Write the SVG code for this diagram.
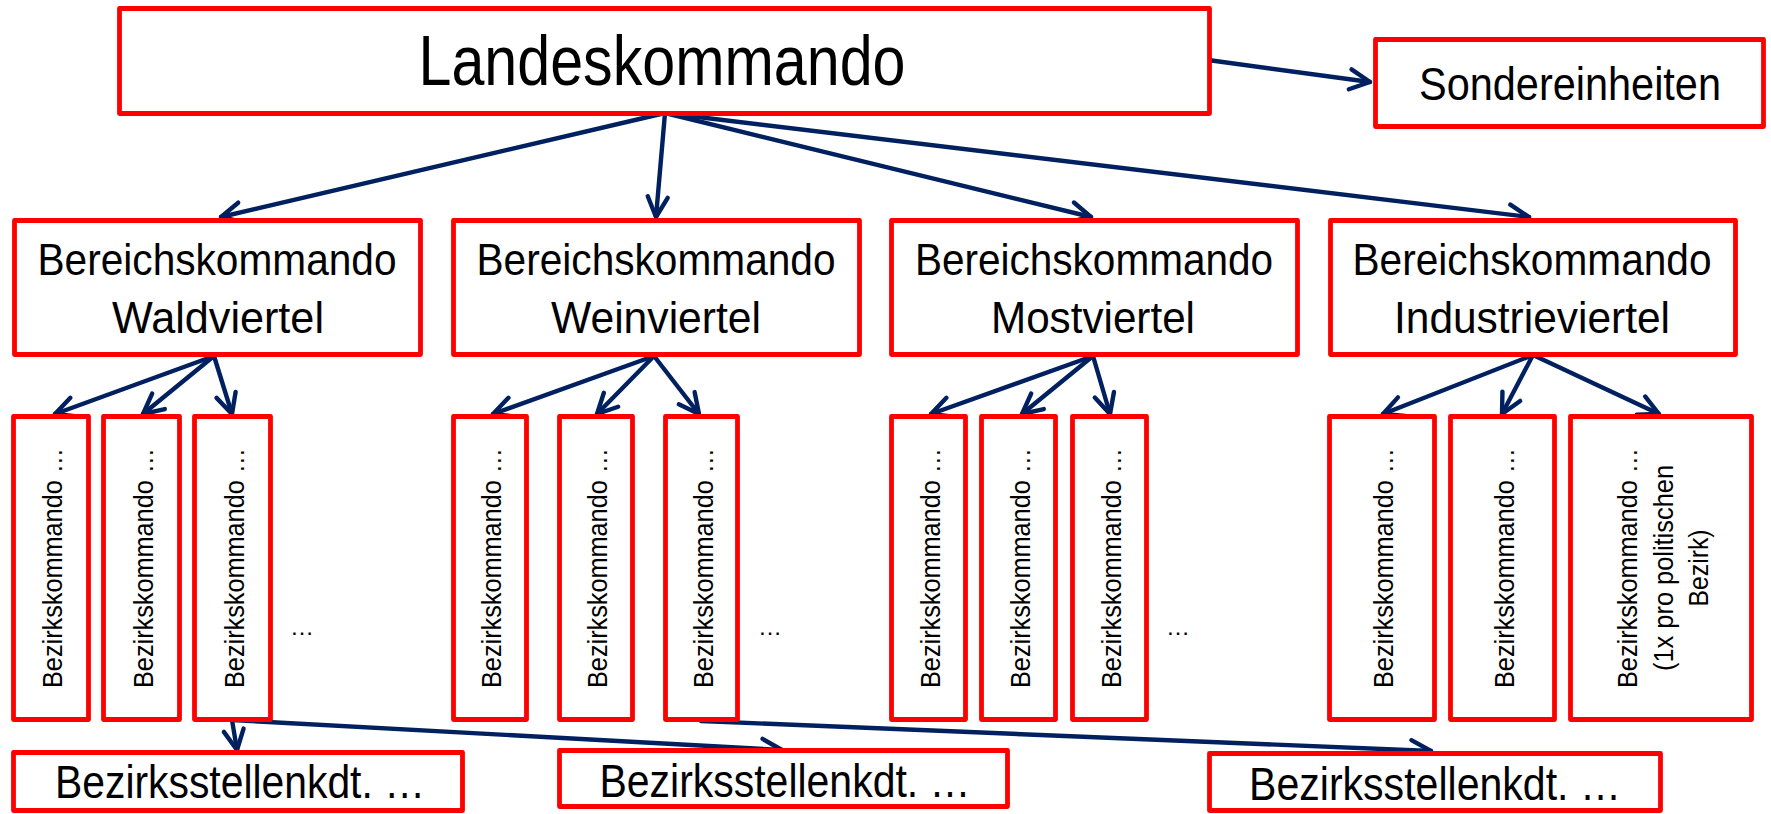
<svg xmlns="http://www.w3.org/2000/svg" width="1771" height="814" viewBox="0 0 1771 814">
<style>
.box{fill:#fff;stroke:#ff0000;stroke-width:4.8;stroke-linejoin:round}
.t{font-family:"Liberation Sans",Arial,sans-serif;fill:#000;text-anchor:middle}
.c{fill:none;stroke:#002060;stroke-width:4.4;stroke-linecap:round;marker-end:url(#arr)}
</style>
<defs>
<marker id="arr" markerUnits="userSpaceOnUse" viewBox="-26 -15 30 30" refX="0" refY="0" markerWidth="30" markerHeight="30" orient="auto" overflow="visible">
<path d="M-20,-10 L0,0 L-20,10" fill="none" stroke="#002060" stroke-width="4.4" stroke-linecap="round" stroke-linejoin="round"/>
</marker>
</defs>
<rect width="1771" height="814" fill="#fff"/>

<g id="connectors">
<line class="c" x1="1208" y1="60" x2="1370" y2="82"/>
<line class="c" x1="665" y1="113" x2="221" y2="217"/>
<line class="c" x1="665" y1="113" x2="656" y2="217"/>
<line class="c" x1="665" y1="113" x2="1091" y2="217"/>
<line class="c" x1="665" y1="113" x2="1529" y2="217"/>
<line class="c" x1="214" y1="356" x2="55" y2="414"/>
<line class="c" x1="214" y1="356" x2="143" y2="414"/>
<line class="c" x1="214" y1="356" x2="232" y2="414"/>
<line class="c" x1="654" y1="356" x2="493" y2="414"/>
<line class="c" x1="654" y1="356" x2="597" y2="414"/>
<line class="c" x1="654" y1="356" x2="699" y2="414"/>
<line class="c" x1="1093" y1="356" x2="931" y2="414"/>
<line class="c" x1="1093" y1="356" x2="1022" y2="414"/>
<line class="c" x1="1093" y1="356" x2="1110" y2="414"/>
<line class="c" x1="1533" y1="355" x2="1383" y2="414"/>
<line class="c" x1="1533" y1="355" x2="1502" y2="414"/>
<line class="c" x1="1533" y1="355" x2="1659" y2="414"/>
<line class="c" x1="232" y1="720" x2="237" y2="750"/>
<line class="c" x1="232" y1="720" x2="782" y2="750"/>
<line class="c" x1="701" y1="721" x2="1431" y2="751"/>
</g>

<g id="landeskommando">
<rect class="box" x="119.5" y="8.5" width="1090" height="105"/>
<text class="t" x="662" y="85" font-size="70" textLength="487" lengthAdjust="spacingAndGlyphs">Landeskommando</text>
</g>
<g id="sondereinheiten">
<rect class="box" x="1375.5" y="39.5" width="388" height="87"/>
<text class="t" x="1570" y="100" font-size="46" textLength="302" lengthAdjust="spacingAndGlyphs">Sondereinheiten</text>
</g>

<g id="bk-waldviertel">
<rect class="box" x="14.5" y="220.5" width="406" height="134"/>
<text class="t" x="217" y="275" font-size="45" textLength="359" lengthAdjust="spacingAndGlyphs">Bereichskommando</text>
<text class="t" x="218" y="333" font-size="45" textLength="212" lengthAdjust="spacingAndGlyphs">Waldviertel</text>
</g>
<g id="bk-weinviertel">
<rect class="box" x="453.5" y="220.5" width="406" height="134"/>
<text class="t" x="656" y="275" font-size="45" textLength="359" lengthAdjust="spacingAndGlyphs">Bereichskommando</text>
<text class="t" x="656" y="333" font-size="45" textLength="210" lengthAdjust="spacingAndGlyphs">Weinviertel</text>
</g>
<g id="bk-mostviertel">
<rect class="box" x="891.5" y="220.5" width="406" height="134"/>
<text class="t" x="1094" y="275" font-size="45" textLength="358" lengthAdjust="spacingAndGlyphs">Bereichskommando</text>
<text class="t" x="1093" y="333" font-size="45" textLength="204" lengthAdjust="spacingAndGlyphs">Mostviertel</text>
</g>
<g id="bk-industrieviertel">
<rect class="box" x="1330.5" y="220.5" width="405" height="134"/>
<text class="t" x="1532" y="275" font-size="45" textLength="359" lengthAdjust="spacingAndGlyphs">Bereichskommando</text>
<text class="t" x="1532" y="333" font-size="45" textLength="276" lengthAdjust="spacingAndGlyphs">Industrieviertel</text>
</g>

<g id="bz-1-1"><rect class="box" x="13.5" y="416.5" width="75" height="303"/>
<text class="t" font-size="28" textLength="240" lengthAdjust="spacingAndGlyphs" transform="translate(62,568) rotate(-90)">Bezirkskommando …</text></g>
<g id="bz-1-2"><rect class="box" x="103.5" y="416.5" width="76" height="303"/>
<text class="t" font-size="28" textLength="240" lengthAdjust="spacingAndGlyphs" transform="translate(152.5,568) rotate(-90)">Bezirkskommando …</text></g>
<g id="bz-1-3"><rect class="box" x="194.5" y="416.5" width="76" height="303"/>
<text class="t" font-size="28" textLength="240" lengthAdjust="spacingAndGlyphs" transform="translate(243.5,568) rotate(-90)">Bezirkskommando …</text></g>
<text class="t" x="302" y="635" font-size="24">…</text>

<g id="bz-2-1"><rect class="box" x="453.5" y="416.5" width="73" height="303"/>
<text class="t" font-size="28" textLength="240" lengthAdjust="spacingAndGlyphs" transform="translate(501,568) rotate(-90)">Bezirkskommando …</text></g>
<g id="bz-2-2"><rect class="box" x="559.5" y="416.5" width="73" height="303"/>
<text class="t" font-size="28" textLength="240" lengthAdjust="spacingAndGlyphs" transform="translate(607,568) rotate(-90)">Bezirkskommando …</text></g>
<g id="bz-2-3"><rect class="box" x="665.5" y="416.5" width="72" height="303"/>
<text class="t" font-size="28" textLength="240" lengthAdjust="spacingAndGlyphs" transform="translate(712.5,568) rotate(-90)">Bezirkskommando …</text></g>
<text class="t" x="770" y="635" font-size="24">…</text>

<g id="bz-3-1"><rect class="box" x="891.5" y="416.5" width="74" height="303"/>
<text class="t" font-size="28" textLength="240" lengthAdjust="spacingAndGlyphs" transform="translate(939.5,568) rotate(-90)">Bezirkskommando …</text></g>
<g id="bz-3-2"><rect class="box" x="981.5" y="416.5" width="74" height="303"/>
<text class="t" font-size="28" textLength="240" lengthAdjust="spacingAndGlyphs" transform="translate(1029.5,568) rotate(-90)">Bezirkskommando …</text></g>
<g id="bz-3-3"><rect class="box" x="1072.5" y="416.5" width="74" height="303"/>
<text class="t" font-size="28" textLength="240" lengthAdjust="spacingAndGlyphs" transform="translate(1120.5,568) rotate(-90)">Bezirkskommando …</text></g>
<text class="t" x="1178" y="635" font-size="24">…</text>

<g id="bz-4-1"><rect class="box" x="1329.5" y="416.5" width="105" height="303"/>
<text class="t" font-size="28" textLength="240" lengthAdjust="spacingAndGlyphs" transform="translate(1393,568) rotate(-90)">Bezirkskommando …</text></g>
<g id="bz-4-2"><rect class="box" x="1450.5" y="416.5" width="104" height="303"/>
<text class="t" font-size="28" textLength="240" lengthAdjust="spacingAndGlyphs" transform="translate(1513.5,568) rotate(-90)">Bezirkskommando …</text></g>
<g id="bz-4-3"><rect class="box" x="1570.5" y="416.5" width="181" height="303"/>
<text class="t" font-size="28" textLength="240" lengthAdjust="spacingAndGlyphs" transform="translate(1637,568) rotate(-90)">Bezirkskommando …</text>
<text class="t" font-size="28" textLength="206" lengthAdjust="spacingAndGlyphs" transform="translate(1673,568) rotate(-90)">(1x pro politischen</text>
<text class="t" font-size="28" textLength="77" lengthAdjust="spacingAndGlyphs" transform="translate(1708,568) rotate(-90)">Bezirk)</text></g>

<g id="bs-1"><rect class="box" x="13.5" y="752.5" width="449" height="58"/>
<text class="t" x="240" y="798" font-size="46" textLength="370" lengthAdjust="spacingAndGlyphs">Bezirksstellenkdt. …</text></g>
<g id="bs-2"><rect class="box" x="559.5" y="750.5" width="448" height="56"/>
<text class="t" x="785" y="797" font-size="46" textLength="371" lengthAdjust="spacingAndGlyphs">Bezirksstellenkdt. …</text></g>
<g id="bs-3"><rect class="box" x="1209.5" y="753.5" width="451" height="57"/>
<text class="t" x="1435" y="800" font-size="46" textLength="372" lengthAdjust="spacingAndGlyphs">Bezirksstellenkdt. …</text></g>
</svg>
